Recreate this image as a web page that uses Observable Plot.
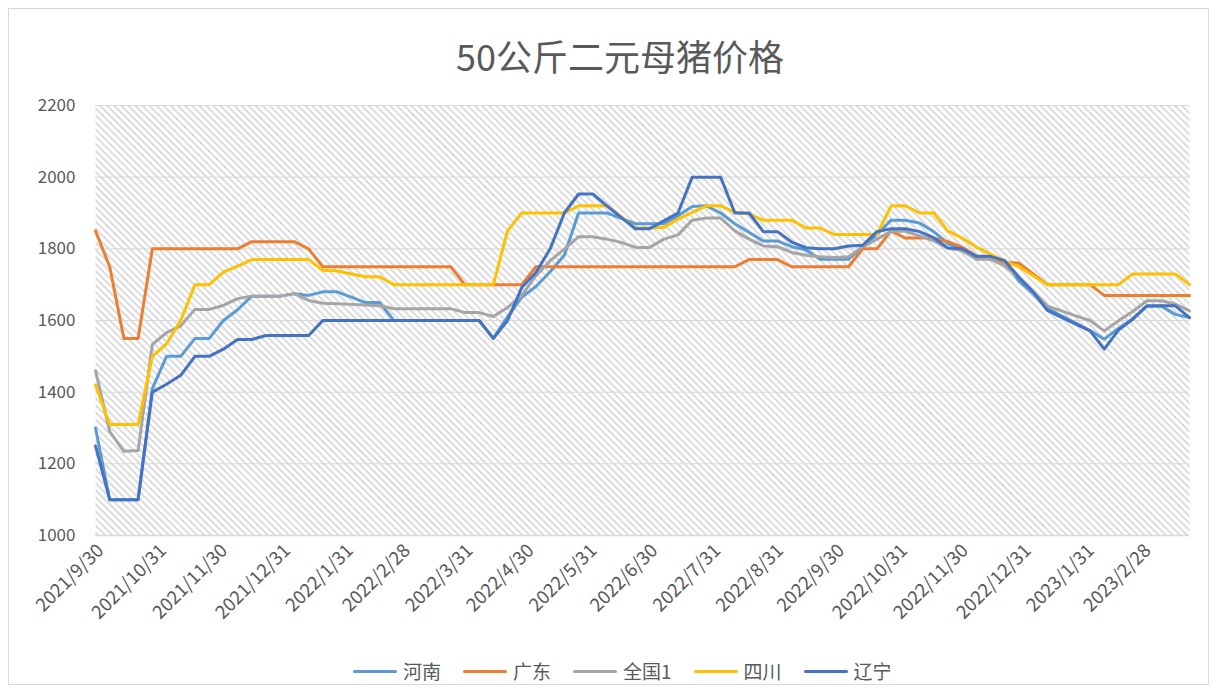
<!DOCTYPE html>
<html><head><meta charset="utf-8">
<script src="https://cdn.jsdelivr.net/npm/d3@7"></script>
<script src="https://cdn.jsdelivr.net/npm/@observablehq/plot@0.6"></script>
<style>
body{margin:0;background:#fff;}
#wrap{position:relative;width:1217px;height:693px;overflow:hidden;font-family:"Noto Sans CJK SC","Noto Sans",sans-serif;color:#595959;}
#border{position:absolute;left:8px;top:8px;width:1201px;height:677px;border:1px solid #D9D9D9;box-sizing:border-box;}
#title{position:absolute;left:0;width:1240px;top:33px;text-align:center;font-size:36px;line-height:44px;color:#595959;}
#chart{position:absolute;left:0;top:0;}
#legend{position:absolute;top:658px;left:353px;display:flex;align-items:center;font-size:19px;line-height:26px;}
.item{display:flex;align-items:center;margin-right:22px;}
.sw{width:44px;height:3px;border-radius:2px;margin-right:6px;}
</style></head>
<body><div id="wrap"><div id="border"></div><div id="title">50公斤二元母猪价格</div><div id="chart"></div><div id="legend"></div></div>
<script>
// month-end tick labels of the date axis
const tickLabels = ["2021/9/30","2021/10/31","2021/11/30","2021/12/31","2022/1/31","2022/2/28","2022/3/31","2022/4/30","2022/5/31","2022/6/30","2022/7/31","2022/8/31","2022/9/30","2022/10/31","2022/11/30","2022/12/31","2023/1/31","2023/2/28"];
const firstDate = "2021/9/30"; // weekly observations start here
const yTicks = [1000,1200,1400,1600,1800,2000,2200];
const seriesNames = ["河南","广东","全国1","四川","辽宁"];
const seriesColors = ["#5B9BD5","#ED7D31","#A5A5A5","#FFC000","#4472C4"];

const henan = [1300,1100,1100,1100,1410,1500,1500,1550,1550,1600,1630,1668,1668,1668,1675,1670,1680,1680,1665,1650,
1650,1600,1600,1600,1600,1600,1600,1600,1550,1610,1665,1695,1736,1782,1900,1900,1900,1885,1870,1870,
1870,1892,1918,1920,1900,1870,1846,1822,1822,1806,1797,1771,1771,1771,1805,1840,1880,1880,1872,1848,
1815,1795,1778,1775,1766,1710,1675,1634,1613,1593,1572,1548,1578,1605,1640,1640,1617,1608];
const guangdong = [1850,1750,1550,1550,1800,1800,1800,1800,1800,1800,1800,1820,1820,1820,1820,1800,1750,1750,1750,1750,
1750,1750,1750,1750,1750,1750,1700,1700,1700,1700,1700,1750,1750,1750,1750,1750,1750,1750,1750,1750,
1750,1750,1750,1750,1750,1750,1770,1770,1770,1750,1750,1750,1750,1750,1800,1800,1850,1830,1830,1830,
1820,1805,1780,1770,1762,1760,1730,1700,1700,1700,1700,1670,1670,1670,1670,1670,1670,1670];
const quanguo = [1460,1290,1235,1237,1533,1566,1585,1631,1631,1642,1661,1668,1668,1668,1675,1656,1648,1647,1645,1643,
1641,1633,1633,1633,1633,1633,1622,1622,1611,1636,1670,1725,1767,1799,1834,1834,1827,1818,1804,1804,
1827,1839,1880,1886,1886,1850,1827,1808,1806,1790,1782,1778,1776,1778,1805,1827,1849,1849,1836,1822,
1802,1795,1771,1771,1752,1720,1680,1640,1627,1613,1600,1571,1599,1625,1655,1655,1646,1627];
const sichuan = [1420,1310,1310,1310,1500,1535,1600,1700,1700,1735,1752,1770,1770,1770,1770,1770,1740,1738,1730,1722,
1722,1700,1700,1700,1700,1700,1700,1700,1700,1850,1900,1900,1900,1900,1920,1920,1920,1890,1858,1858,
1860,1883,1902,1920,1920,1902,1897,1880,1880,1880,1858,1858,1840,1840,1840,1840,1920,1920,1900,1900,
1850,1830,1805,1785,1765,1750,1725,1700,1700,1700,1700,1700,1700,1730,1730,1730,1730,1700];
const liaoning = [1250,1100,1100,1100,1400,1422,1447,1500,1500,1520,1547,1547,1558,1558,1558,1558,1600,1600,1600,1600,
1600,1600,1600,1600,1600,1600,1600,1600,1550,1600,1692,1734,1800,1900,1953,1953,1920,1888,1856,1856,
1878,1900,2000,2000,2000,1900,1900,1848,1848,1819,1803,1800,1800,1808,1810,1848,1856,1856,1848,1831,
1802,1800,1779,1779,1767,1720,1680,1628,1609,1590,1571,1520,1573,1603,1641,1641,1641,1608];

const allSeries = [henan, guangdong, quanguo, sichuan, liaoning];
const parseDate = s => { const [y, m, d] = s.split("/").map(Number); return new Date(Date.UTC(y, m - 1, d)); };
const fmtDate = d => `${d.getUTCFullYear()}/${d.getUTCMonth() + 1}/${d.getUTCDate()}`;
const t0 = parseDate(firstDate);
const dates = henan.map((_, i) => d3.utcDay.offset(t0, 7 * i));
const tickDates = tickLabels.map(parseDate);

const svg = Plot.plot({
  width: 1217, height: 640,
  marginLeft: 95, marginRight: 28, marginTop: 105, marginBottom: 105,
  style: {fontFamily: '"Noto Sans CJK SC","Noto Sans",sans-serif', color: "#595959", background: "transparent"},
  x: {type: "utc", domain: [dates[0], dates[dates.length - 1]]},
  y: {domain: [1000, 2200]},
  marks: [
    Plot.frame({fill: "url(#hatch)", stroke: null}),
    Plot.ruleY(yTicks.filter(d => d > 1000), {stroke: "#D9D9D9", strokeWidth: 1}),
    Plot.ruleY([1000], {stroke: "#D9D9D9", strokeWidth: 1.5}),
    Plot.axisY({ticks: yTicks, tickSize: 0, tickPadding: 20, fontSize: 17, tickFormat: d => String(d), label: null}),
    Plot.axisX({ticks: tickDates, tickSize: 0, tickPadding: 12, tickRotate: -45, fontSize: 18.5, dx: 5, tickFormat: fmtDate, label: null}),
    ...allSeries.map((vals, s) => Plot.line(vals, {x: (d, i) => dates[i], y: d => d, stroke: seriesColors[s], strokeWidth: 3, strokeLinejoin: "round", strokeLinecap: "round"}))
  ]
});
const defs = d3.select(svg).insert("defs", ":first-child");
const pat = defs.append("pattern").attr("id", "hatch").attr("patternUnits", "userSpaceOnUse")
  .attr("width", 5).attr("height", 5).attr("patternTransform", "rotate(-45)");
pat.append("rect").attr("width", 5).attr("height", 5).attr("fill", "#fff");
pat.append("rect").attr("width", 2).attr("height", 5).attr("fill", "#DCDCDC");
document.getElementById("chart").appendChild(svg);

const leg = document.getElementById("legend");
seriesNames.forEach((n, s) => {
  const it = document.createElement("div"); it.className = "item";
  const sw = document.createElement("div"); sw.className = "sw"; sw.style.background = seriesColors[s];
  const tx = document.createElement("span"); tx.textContent = n;
  it.appendChild(sw); it.appendChild(tx); leg.appendChild(it);
});
</script></body></html>
